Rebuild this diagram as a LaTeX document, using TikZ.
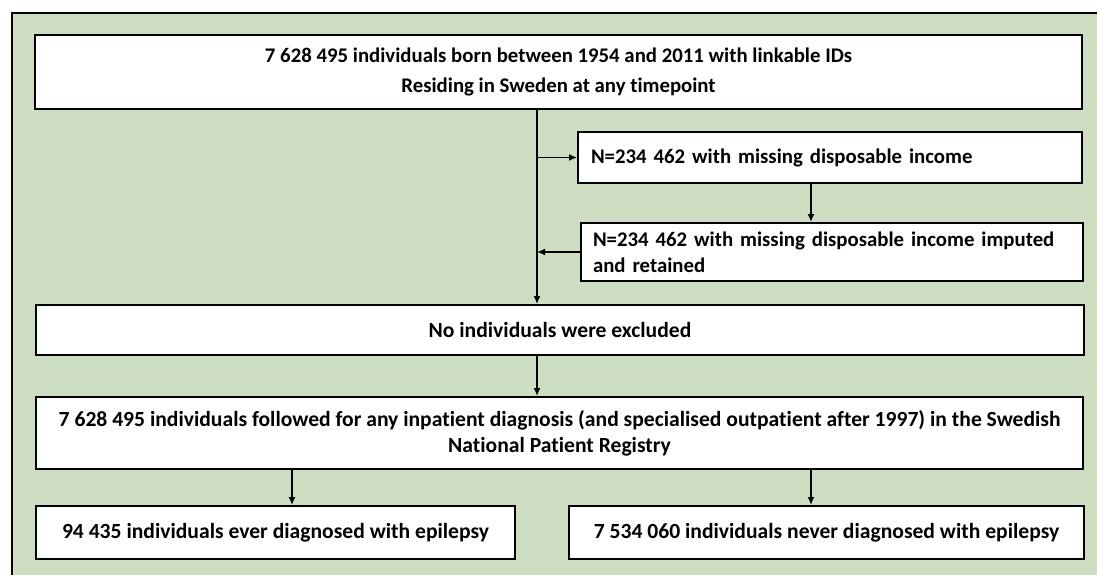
\documentclass[tikz,border=0pt]{standalone}
\usepackage{fontspec}
\setmainfont{Carlito}[Ligatures=NoCommon]
\usetikzlibrary{arrows.meta}
\definecolor{panelgreen}{RGB}{206,222,195}

\begin{document}
\begin{tikzpicture}[x=1pt,y=-1pt]
   \useasboundingbox (0,0) rectangle (1097,575);
   \tikzset{FlowBox/.style={draw=black, line width=2pt, fill=white, inner sep=0pt,
      font=\fontsize{20.8}{26}\selectfont\bfseries, align=center}}
   \tikzset{LowBox/.style={FlowBox, font=\fontsize{21.6}{26}\selectfont\bfseries}}
   \tikzset{SideBox/.style={FlowBox, align=left, text width=478pt}}
   \tikzset{FlowArrow/.style={-{Latex[length=8pt,width=7pt]}, line width=1.5pt}}
   % panel
   \fill[white] (0,0) rectangle (1097,575);
   \fill[panelgreen] (12,13) rectangle (1097,575);
   \draw[line width=2.5pt] (12,575) -- (12,13) -- (1097,13);

   \node[FlowBox, minimum width=1047pt, minimum height=74pt] (Cohort) at (558.5,72)
      {7 628 495 individuals born between 1954 and 2011 with linkable IDs\\[4pt]
       Residing in Sweden at any timepoint};
   \node[SideBox, minimum width=504pt, minimum height=51pt] (Missing) at (830,157.5)
      {N=234 462 with missing disposable income};
   \node[SideBox, minimum width=502pt, minimum height=58pt] (Imputed) at (832,252)
      {N=234 462 with missing disposable income imputed\\and retained};
   \node[LowBox, minimum width=1048pt, minimum height=50pt] (NoExcl) at (560,330)
      {No individuals were excluded};
   \node[LowBox, minimum width=1047pt, minimum height=72pt] (Followed) at (559.5,433)
      {7 628 495 individuals followed for any inpatient diagnosis (and specialised outpatient after 1997) in the Swedish\\
       National Patient Registry};
   \node[LowBox, minimum width=479pt, minimum height=53pt] (Ever) at (275.5,532.5)
      {94 435 individuals ever diagnosed with epilepsy};
   \node[LowBox, minimum width=515pt, minimum height=53pt] (Never) at (826.5,532.5)
      {7 534 060 individuals never diagnosed with epilepsy};

   \coordinate (Trunk) at (537,0);
   \coordinate (LeftX) at (292,0);
   \coordinate (RightX) at (811,0);

   \draw[FlowArrow] (Cohort.south -| Trunk) -- (NoExcl.north -| Trunk);
   \draw[FlowArrow] (Missing.west -| Trunk) -- (Missing.west);
   \draw[FlowArrow] (Missing.south -| RightX) -- (Imputed.north -| RightX);
   \draw[FlowArrow] (Imputed.west) -- (Imputed.west -| Trunk);
   \draw[FlowArrow] (NoExcl.south -| Trunk) -- (Followed.north -| Trunk);
   \draw[FlowArrow] (Followed.south -| LeftX) -- (Ever.north -| LeftX);
   \draw[FlowArrow] (Followed.south -| RightX) -- (Never.north -| RightX);
\end{tikzpicture}
\end{document}
